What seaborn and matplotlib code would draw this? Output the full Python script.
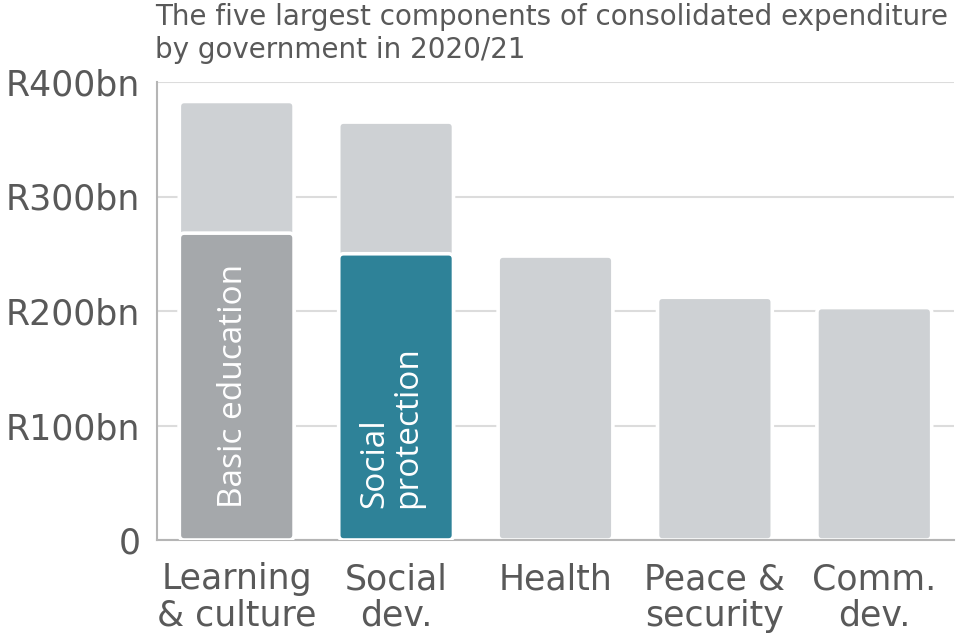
import matplotlib
matplotlib.use("Agg")
import matplotlib.pyplot as plt
import seaborn as sns
import pandas as pd
from matplotlib.patches import FancyBboxPatch

# ---- data ----
categories = ["Learning\n& culture", "Social\ndev.", "Health", "Peace &\nsecurity", "Comm.\ndev."]
totals = [383, 365, 248, 212, 203]
component_cats = ["Learning\n& culture", "Social\ndev."]
component_vals = [268, 250]
component_labels = ["Basic education", "Social\nprotection"]
y_ticks = [0, 100, 200, 300, 400]
y_tick_labels = ["0", "R100bn", "R200bn", "R300bn", "R400bn"]
title = "The five largest components of consolidated expenditure\nby government in 2020/21"

# ---- style ----
LIGHT = "#CED1D4"
DARK = "#A5A8AB"
TEAL = "#2E8298"
TEXT = "#595959"
GRID = "#DCDCDC"
SPINE = "#B5B5B5"

sns.set_theme(style="white")
plt.rcParams["font.family"] = ["DejaVu Sans"]

fig = plt.figure(figsize=(9.56, 6.38), dpi=100)
ax = fig.add_axes([157/956, 98/638, (954-157)/956, (540-82)/638])

df_tot = pd.DataFrame({"cat": categories, "val": totals})
df_comp = pd.DataFrame({"cat": component_cats, "val": component_vals})

sns.barplot(data=df_tot, x="cat", y="val", order=categories, color=LIGHT,
            width=0.72, saturation=1, ax=ax, zorder=2)
sns.barplot(data=df_comp, x="cat", y="val", order=categories, hue="cat",
            palette=[DARK, TEAL], legend=False, width=0.72, saturation=1,
            ax=ax, zorder=3)

# round the bar corners
ax.set_xlim(-0.5, 4.5)
ax.set_ylim(0, 400)
px_x = (954-157) / 5.0      # px per x unit
px_y = (540-82) / 400.0     # px per y unit
aspect = (1/px_y) / (1/px_x)
r = 5 / px_x
for p in list(ax.patches):
    x, y = p.get_x(), p.get_y()
    w, h = p.get_width(), p.get_height()
    if h <= 0 or not (h == h):
        p.remove()
        continue
    fc = p.get_facecolor()
    z = p.get_zorder()
    p.remove()
    fb = FancyBboxPatch((x, y), w, h,
                        boxstyle=f"round,pad=0,rounding_size={r}",
                        mutation_aspect=aspect, facecolor=fc,
                        edgecolor="white", linewidth=2.6, zorder=z)
    ax.add_patch(fb)

# inner rotated labels
for i, lab in enumerate(component_labels):
    ax.text(i - 0.02 if i == 0 else i - 0.03, 28, lab, rotation=90, rotation_mode="anchor",
            ha="left", va="center", color="white", fontsize=24,
            family=["Open Sans", "DejaVu Sans"], linespacing=1.0, zorder=5)

# axes styling
ax.set_yticks(y_ticks)
ax.set_yticklabels(y_tick_labels)
ax.yaxis.grid(True, color=GRID, linewidth=1.5, zorder=0)
ax.set_axisbelow(True)
ax.set_xlabel("")
ax.set_ylabel("")
ax.tick_params(axis="y", length=0, labelsize=25, labelcolor=TEXT, pad=12)
ax.tick_params(axis="x", which="major", length=0, labelsize=25, labelcolor=TEXT, pad=16)
ax.set_xticks([0.5, 1.5, 2.5, 3.5, 4.5], minor=True)
ax.tick_params(axis="x", which="minor", direction="in", length=7, color=SPINE, width=1.2)
for lbl in ax.get_xticklabels():
    lbl.set_linespacing(1.1)

for s in ["top", "right"]:
    ax.spines[s].set_visible(False)
for s in ["left", "bottom"]:
    ax.spines[s].set_color(SPINE)
    ax.spines[s].set_linewidth(1.5)

fig.text(155/956, 1 - 3/638, title, ha="left", va="top", fontsize=20,
         color=TEXT, linespacing=1.22)

fig.savefig("out.png", dpi=100)
